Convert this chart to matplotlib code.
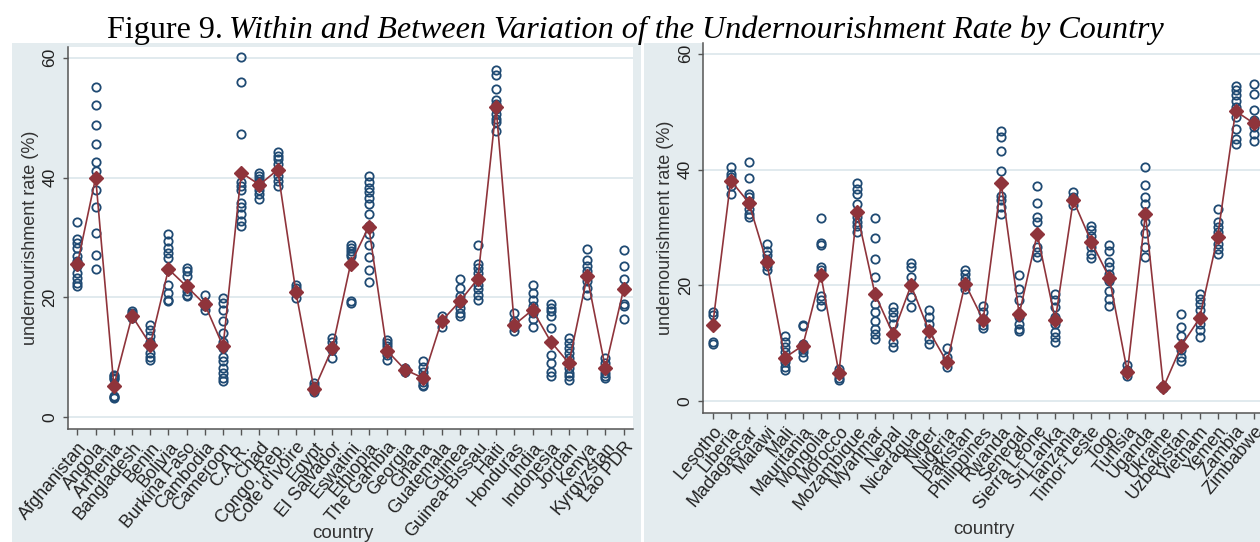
import matplotlib
matplotlib.use('Agg')
import matplotlib.pyplot as plt
from matplotlib.patches import Rectangle

W, H = 1260, 542
NAVY = '#1f4a73'
MAROON = '#8f343b'
GRID = '#e1eaee'
PANEL_BG = '#e4ecef'
AXIS = '#555555'
SANS = ['Liberation Sans', 'DejaVu Sans']

# ---- left panel: Afghanistan .. Lao PDR ----
left_countries = ['Afghanistan', 'Angola', 'Armenia', 'Bangladesh', 'Benin', 'Bolivia',
                  'Burkina Faso', 'Cambodia', 'Cameroon', 'C.A.R.', 'Chad', 'Congo, Rep.',
                  "Cote d'Ivoire", 'Egypt', 'El Salvador', 'Eswatini', 'Ethiopia',
                  'The Gambia', 'Georgia', 'Ghana', 'Guatemala', 'Guinea', 'Guinea-Bissau',
                  'Haiti', 'Honduras', 'India', 'Indonesia', 'Jordan', 'Kenya',
                  'Kyrgyzstan', 'Lao PDR']
left_obs = [
    [32.5, 29.8, 29.1, 28.3, 26.9, 26.1, 25.2, 24.1, 23.3, 22.4, 21.9],
    [55.1, 52.1, 48.8, 45.6, 42.6, 41.1, 38.0, 35.0, 30.8, 27.0, 24.7],
    [7.0, 6.8, 6.6, 6.4, 3.5, 3.3, 3.1],
    [17.7, 17.4, 17.1, 16.8, 16.5],
    [15.3, 14.6, 13.5, 12.6, 11.8, 10.7, 10.1, 9.6],
    [30.5, 29.4, 28.3, 27.4, 26.6, 24.6, 22.1, 20.7, 19.6, 19.3],
    [24.9, 24.4, 23.5, 21.8, 21.0, 20.4, 20.2],
    [20.4, 19.1, 18.5, 17.9],
    [19.9, 19.1, 17.9, 16.0, 14.0, 12.6, 11.5, 10.1, 9.3, 8.2, 7.3, 6.5, 6.1],
    [60.1, 56.0, 47.2, 39.2, 38.6, 38.0, 35.8, 35.0, 33.9, 32.7, 31.9],
    [40.8, 40.3, 39.7, 39.2, 38.6, 38.0, 37.2, 36.4],
    [44.2, 43.6, 43.1, 42.2, 41.1, 40.3, 39.4, 38.6],
    [22.1, 21.6, 20.7, 19.9],
    [5.6, 5.1, 4.6, 4.2],
    [13.2, 12.6, 11.2, 9.8],
    [28.8, 28.3, 27.7, 27.2, 26.9, 19.3, 19.1],
    [40.2, 39.2, 38.3, 37.5, 36.5, 35.5, 33.9, 31.9, 30.5, 28.8, 26.8, 24.6, 22.5],
    [12.9, 12.3, 11.8, 11.2, 10.4, 9.6],
    [8.2, 7.9, 7.6],
    [9.3, 8.4, 7.6, 6.8, 5.9, 5.4, 5.1],
    [16.8, 16.0, 15.1],
    [23.1, 21.6, 20.2, 19.1, 18.2, 17.4, 16.8],
    [28.8, 25.6, 24.9, 24.1, 23.2, 22.1, 21.3, 20.4, 19.6],
    [57.9, 57.2, 54.8, 53.0, 52.3, 51.5, 50.6, 49.8, 49.2, 47.7],
    [17.4, 16.0, 15.1, 14.3],
    [22.1, 20.7, 19.6, 18.5, 17.4, 16.3, 15.1],
    [18.8, 18.2, 17.7, 16.8, 14.9, 10.4, 9.0, 7.6, 6.8],
    [13.2, 12.3, 11.5, 10.7, 9.8, 9.0, 8.2, 7.3, 6.8, 6.2],
    [28.0, 26.3, 25.2, 24.4, 23.5, 22.7, 21.6, 20.4],
    [9.8, 9.0, 8.2, 7.3, 6.8, 6.5],
    [27.9, 25.3, 23.0, 21.6, 18.8, 18.5, 16.4],
]
left_means = [25.6, 40.0, 5.2, 16.9, 12.1, 24.7, 21.8, 18.8, 11.8, 40.8, 38.8, 41.3,
              20.9, 4.6, 11.5, 25.5, 31.8, 11.1, 7.9, 6.5, 16.0, 19.3, 23.1, 51.7,
              15.4, 17.9, 12.6, 9.0, 23.5, 8.2, 21.3]

# ---- right panel: Lesotho .. Zimbabwe ----
right_countries = ['Lesotho', 'Liberia', 'Madagascar', 'Malawi', 'Mali', 'Mauritania',
                   'Mongolia', 'Morocco', 'Mozambique', 'Myanmar', 'Nepal', 'Nicaragua',
                   'Niger', 'Nigeria', 'Pakistan', 'Philippines', 'Rwanda', 'Senegal',
                   'Sierra Leone', 'Sri Lanka', 'Tanzania', 'Timor-Leste', 'Togo',
                   'Tunisia', 'Uganda', 'Ukraine', 'Uzbekistan', 'Vietnam', 'Yemen',
                   'Zambia', 'Zimbabwe']
right_obs = [
    [15.4, 14.8, 10.2, 9.9],
    [40.4, 39.3, 38.7, 38.1, 37.2, 35.8],
    [41.3, 38.6, 35.8, 35.2, 34.1, 33.2, 32.4, 31.8],
    [27.1, 26.0, 25.2, 24.3, 23.4, 22.6],
    [11.2, 10.2, 9.3, 8.5, 7.6, 6.7, 5.9, 5.3],
    [13.2, 12.9, 9.9, 9.0, 8.5, 7.7],
    [31.7, 27.3, 26.9, 23.1, 22.6, 22.0, 18.2, 17.4, 16.5],
    [5.6, 4.7, 4.0, 3.6],
    [37.7, 36.7, 35.8, 34.1, 31.8, 30.9, 30.2, 29.2],
    [31.7, 28.2, 24.6, 21.4, 16.8, 15.4, 13.9, 12.5, 11.6, 10.8],
    [16.2, 15.4, 14.5, 13.4, 11.6, 10.2, 9.3],
    [23.8, 23.1, 21.4, 20.3, 18.0, 16.2],
    [15.8, 14.5, 13.4, 12.2, 10.8, 9.9],
    [9.2, 7.6, 6.7, 5.9],
    [22.7, 22.0, 21.1, 20.0, 19.4],
    [16.5, 15.4, 14.2, 13.1, 12.7],
    [46.6, 45.6, 43.2, 39.8, 35.5, 34.7, 33.5, 32.4],
    [21.7, 19.4, 17.4, 14.5, 13.4, 12.5, 12.1],
    [37.1, 34.3, 31.8, 30.9, 26.6, 25.7, 24.9],
    [18.5, 17.4, 16.2, 14.5, 13.4, 11.9, 11.1, 10.2],
    [36.1, 35.2, 34.7, 33.8],
    [30.3, 29.5, 28.6, 27.7, 26.6, 25.4, 24.8],
    [26.9, 26.0, 24.0, 23.1, 22.0, 20.8, 19.1, 17.7, 16.5],
    [6.2, 5.3, 4.4],
    [40.5, 37.4, 35.3, 34.1, 32.4, 30.9, 29.0, 26.6, 24.9],
    [2.6, 2.4, 2.2],
    [15.0, 12.8, 11.3, 9.6, 8.8, 7.6, 7.0],
    [18.5, 17.7, 16.8, 15.7, 14.5, 13.4, 12.2, 11.1],
    [33.2, 30.9, 30.1, 29.2, 27.2, 26.3, 25.4],
    [54.5, 53.7, 52.8, 51.9, 50.8, 49.1, 47.0, 45.3, 44.4],
    [54.8, 53.0, 50.2, 48.5, 47.3, 46.2, 45.0],
]
right_means = [13.1, 38.1, 34.3, 24.0, 7.5, 9.6, 21.8, 4.9, 32.6, 18.5, 11.6, 20.0,
               12.1, 6.7, 20.3, 14.0, 37.7, 15.0, 28.9, 14.0, 34.7, 27.5, 21.3, 5.0,
               32.4, 2.4, 9.6, 14.3, 28.3, 50.1, 48.0]

yticks = [0, 20, 40, 60]


def px(x0, y0, x1, y1):
    # pixel box (from top-left) -> figure fraction [left, bottom, width, height]
    return [x0 / W, (H - y1) / H, (x1 - x0) / W, (y1 - y0) / H]


def draw_panel(ax, countries, obs, means):
    for i, vals in enumerate(obs):
        ax.plot([i] * len(vals), vals, linestyle='none', marker='o', mfc='none',
                mec=NAVY, ms=6.0, mew=1.3, zorder=3)
    xs = list(range(len(countries)))
    ax.plot(xs, means, '-', color=MAROON, lw=1.2, zorder=4)
    ax.plot(xs, means, linestyle='none', marker='D', color=MAROON, ms=7.0, zorder=5)

    ax.set_xlim(-0.52, len(countries) - 0.48)
    ax.set_ylim(-2.0, 61.8)
    ax.set_yticks(yticks)
    ax.set_xticks(xs)
    ax.set_xticklabels(countries, rotation=50, ha='right', va='top',
                       rotation_mode='anchor', fontsize=13, family=SANS, color='#222222')
    for lab in ax.get_yticklabels():
        lab.set_rotation(90)
        lab.set_va('center')
        lab.set_family(SANS)
    ax.tick_params(axis='y', labelsize=12.5, labelcolor='#222222', length=3.6,
                   width=1, color=AXIS, pad=4)
    ax.tick_params(axis='x', length=4.3, width=1, color=AXIS, pad=3)
    ax.grid(axis='y', color=GRID, lw=1.4, zorder=0)
    ax.set_axisbelow(True)
    for side in ('top', 'right'):
        ax.spines[side].set_visible(False)
    for side in ('left', 'bottom'):
        ax.spines[side].set_color(AXIS)
        ax.spines[side].set_linewidth(1.1)


fig = plt.figure(figsize=(W / 100, H / 100), dpi=100)
fig.patch.set_facecolor('white')

# light graph-region backgrounds behind each panel
fig.add_artist(Rectangle((12 / W, 0), (641 - 12) / W, (H - 43) / H,
                         transform=fig.transFigure, facecolor=PANEL_BG,
                         edgecolor='none', zorder=0))
fig.add_artist(Rectangle((644 / W, 0), (W - 644) / W, (H - 43) / H,
                         transform=fig.transFigure, facecolor=PANEL_BG,
                         edgecolor='none', zorder=0))

ax1 = fig.add_axes(px(68, 47, 633, 429))
ax2 = fig.add_axes(px(703.3, 43.3, 1263, 412.7))
draw_panel(ax1, left_countries, left_obs, left_means)
draw_panel(ax2, right_countries, right_obs, right_means)

# axis titles
fig.text(31 / W, (H - 238) / H, 'undernourishment rate (%)', rotation=90,
         ha='center', va='center', fontsize=13, family=SANS, color='#333333')
fig.text(666 / W, (H - 228) / H, 'undernourishment rate (%)', rotation=90,
         ha='center', va='center', fontsize=13, family=SANS, color='#333333')
fig.text(343 / W, (H - 533) / H, 'country', ha='center', va='center',
         fontsize=13.5, family=SANS, color='#333333')
fig.text(984 / W, (H - 530) / H, 'country', ha='center', va='center',
         fontsize=13.5, family=SANS, color='#333333')

# figure caption: plain number, italic title
SERIF = ['Liberation Serif', 'DejaVu Serif']
base_y = (H - 38) / H
t1 = fig.text(107 / W, base_y, 'Figure 9.', ha='left', va='baseline',
              fontsize=23.1, family=SERIF, color='black', zorder=10)
fig.canvas.draw()
bb = t1.get_window_extent()
fig.text((bb.x1 + 6) / W, base_y,
         'Within and Between Variation of the Undernourishment Rate by Country',
         ha='left', va='baseline', fontsize=23.1, family=SERIF, style='italic',
         color='black', zorder=10)

fig.savefig('out.png', dpi=100)
